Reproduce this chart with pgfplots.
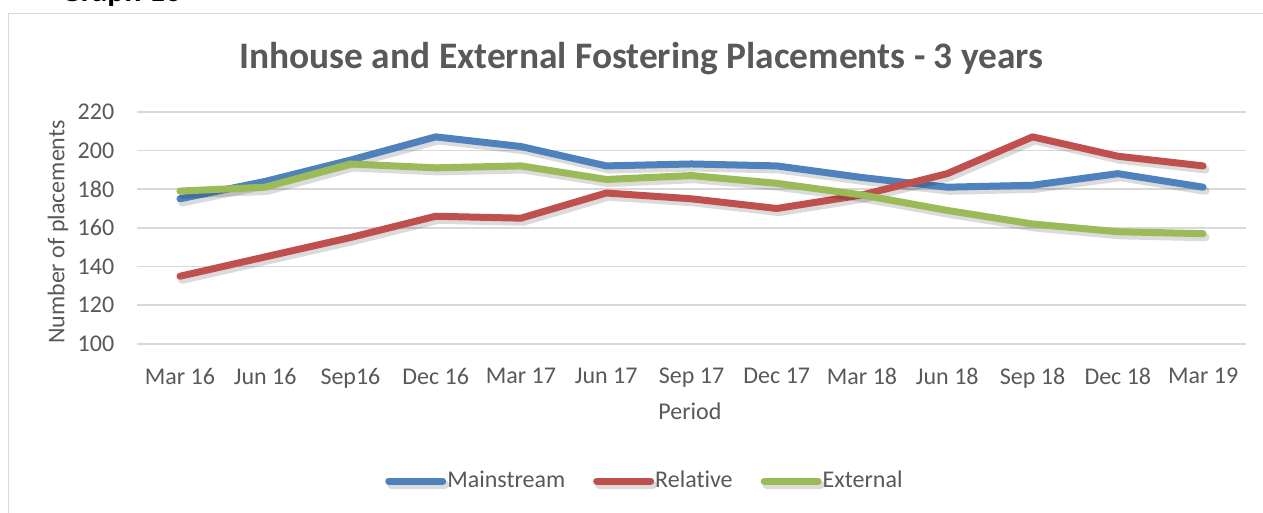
\documentclass[border=0pt]{standalone}
\usepackage{fontspec}
\setmainfont{Carlito}[Ligatures=NoCommon]
\usepackage{pgfplots}
\pgfplotsset{compat=1.18}
\definecolor{cblue}{HTML}{4F81BD}
\definecolor{cred}{HTML}{C0504D}
\definecolor{cgreen}{HTML}{9BBB59}
\definecolor{ctext}{HTML}{595959}
\definecolor{cgrid}{HTML}{D9D9D9}
\begin{document}
\begin{tikzpicture}
\clip (0pt,0pt) rectangle (631.5pt,-256.5pt);
\fill[white] (0pt,0pt) rectangle (631.5pt,-256.5pt);
\draw[cgrid, line width=0.8pt] (4.15pt,-260pt) -- (4.15pt,-6.75pt) -- (640pt,-6.75pt);
\node[anchor=base west, font=\bfseries\fontsize{16}{18}\selectfont, inner sep=0pt] at (30pt,-0.8pt) {Graph 16};
\node[font=\bfseries\fontsize{18.7}{22}\selectfont, text=ctext] at (320.75pt,-29.5pt) {Inhouse and External Fostering Placements - 3 years};
\begin{axis}[
  at={(68.65pt,-172pt)}, anchor=south west,
  width=554.2pt, height=116.15pt, scale only axis,
  xmin=-0.5, xmax=12.5, ymin=100, ymax=220,
  xtick={0,...,12},
  xticklabels={Mar 16,Jun 16,Sep16,Dec 16,Mar 17,Jun 17,Sep 17,Dec 17,Mar 18,Jun 18,Sep 18,Dec 18,Mar 19},
  ytick={100,120,...,220},
  ymajorgrids, major grid style={cgrid, line width=0.9pt},
  axis line style={draw=none},
  tick style={draw=none},
  tick label style={font=\fontsize{12}{14}\selectfont, text=ctext},
  /pgf/number format/assume math mode=true,
  xticklabel style={yshift=-8.5pt},
  yticklabel style={xshift=-8pt},
  xlabel={Period}, ylabel={Number of placements},
  label style={font=\fontsize{12}{14}\selectfont, text=ctext},
  xlabel style={at={(axis description cs:0.4986,-0.288)}, anchor=center},
  ylabel style={at={(axis description cs:-0.0715,0.482)}, anchor=center},
  legend style={draw=none, fill=none, at={(axis description cs:0.4575,-0.590)}, anchor=center,
    font=\fontsize{12}{14}\selectfont, text=ctext, legend columns=3,
    /tikz/every even column/.append style={column sep=13.5pt},
    nodes={inner xsep=0.5pt},
    inner sep=0pt},
  legend image code/.code={\draw[#1, line width=3.5pt, line cap=round] (0pt,0pt) -- (27pt,0pt);},
  every axis plot/.append style={line width=3.5pt, line join=round, line cap=round,
    preaction={draw=black, opacity=0.14, line width=4pt, transform canvas={xshift=1.2pt, yshift=-1.8pt}}},
]
\addplot[cblue] coordinates {(0,175) (1,184) (2,195) (3,207) (4,202) (5,192) (6,193) (7,192) (8,186) (9,181) (10,182) (11,188) (12,181)};
\addlegendentry{Mainstream}
\addplot[cred] coordinates {(0,135) (1,145) (2,155) (3,166) (4,165) (5,178) (6,175) (7,170) (8,177) (9,188) (10,207) (11,197) (12,192)};
\addlegendentry{Relative}
\addplot[cgreen] coordinates {(0,179) (1,181) (2,193) (3,191) (4,192) (5,185) (6,187) (7,183) (8,177) (9,169) (10,162) (11,158) (12,157)};
\addlegendentry{External}
\end{axis}
\end{tikzpicture}
\end{document}
